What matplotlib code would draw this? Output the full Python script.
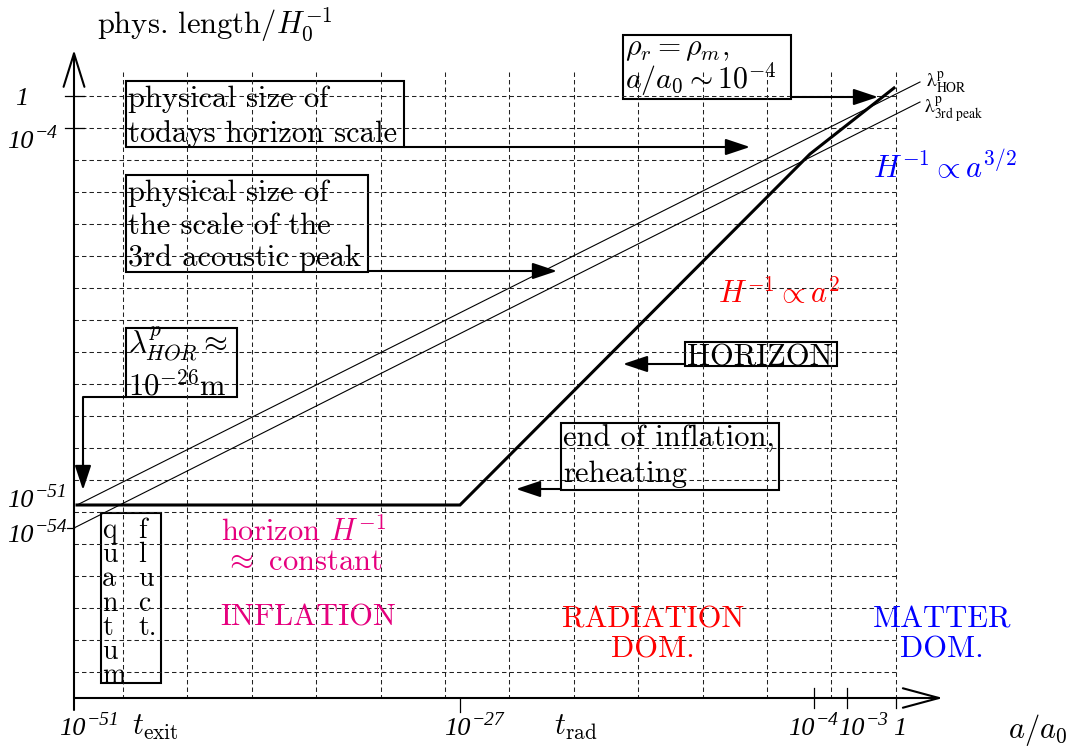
import matplotlib
matplotlib.use('Agg')
import matplotlib.pyplot as plt
from matplotlib.patches import Rectangle
import numpy as np

plt.rcParams['font.family'] = 'cmr10'
plt.rcParams['mathtext.fontset'] = 'cm'
plt.rcParams['axes.unicode_minus'] = False
plt.rcParams['lines.scale_dashes'] = False

PINK = '#e6007e'

# schematic sketch, coordinates in pixels of the drawing (y grows downward)
horizon_x = [77, 460, 810, 894]
horizon_y = [505, 505, 154, 88]
lam_hor_x = [77, 920]
lam_hor_y = [505, 82]
lam_3rd_x = [74, 920]
lam_3rd_y = [528, 102]

grid_x = 123 + 64.4 * np.arange(13)
grid_y = 96 + 32 * np.arange(19)

# tick labels: (base, exponent)
xtick_base = ['10', '10', '10', '10', '1']
xtick_exp = ['\u221251', '\u221227', '\u22124', '\u22123', '']
xtick_pos = [86, 471, 815, 865, 906]
time_labels = [r'$t_{\mathrm{exit}}$', r'$t_{\mathrm{rad}}$']
time_pos = [155, 576]
ytick_base = ['1', '10', '10', '10']
ytick_exp = ['', '\u22124', '\u221251', '\u221254']
ytick_pos = [105, 148, 507, 542]
ytick_anchor = [28, 34, 34, 34]

quantum_letters = list('quantum')
fluct_letters = ['f', 'l', 'u', 'c', 't.']

fig = plt.figure(figsize=(10.72, 7.49), dpi=100)
ax = fig.add_axes([0, 0, 1, 1])
ax.set_xlim(0, 1072)
ax.set_ylim(749, 0)
ax.axis('off')

# dashed grid
for gx in grid_x:
  ax.plot([gx, gx], [72, 698], color='#222222', lw=0.75, dashes=(3.2, 2.2))
for gy in grid_y:
  ax.plot([74, 896], [gy, gy], color='#222222', lw=0.75, dashes=(3.2, 2.2))

# axes with open arrow heads
ax.annotate('', xy=(74, 50), xytext=(74, 710),
            arrowprops=dict(arrowstyle='->,head_length=2.4,head_width=0.75', mutation_scale=10,
                            lw=1.5, color='k', shrinkA=0, shrinkB=0))
ax.annotate('', xy=(943, 698), xytext=(74, 698),
            arrowprops=dict(arrowstyle='->,head_length=2.6,head_width=0.7', mutation_scale=10,
                            lw=1.5, color='k', shrinkA=0, shrinkB=0))

# tick marks
for ty in [96, 128]:
  ax.plot([65, 84], [ty, ty], color='k', lw=0.9)
ax.plot([67, 74], [528, 528], color='k', lw=0.9)
ax.plot([460, 460], [698, 712], color='k', lw=0.9)
for tx in [814, 847]:
  ax.plot([tx, tx], [688, 708], color='k', lw=0.9)
ax.plot([896, 896], [698, 708], color='k', lw=0.9)

# curves
ax.plot(lam_hor_x, lam_hor_y, color='k', lw=0.8)
ax.plot(lam_3rd_x, lam_3rd_y, color='k', lw=0.8)
ax.plot(horizon_x, horizon_y, color='k', lw=2.2, solid_joinstyle='miter')


def itick(x, y, base, exp):
  # italic power of ten: base ends at x, exponent starts at x
  if exp:
    ax.text(x, y, base, ha='right', va='baseline', fontsize=19,
            family='Liberation Serif', style='italic')
    ax.text(x + 1, y - 10, exp, ha='left', va='baseline', fontsize=14,
            family='Liberation Serif', style='italic')
  else:
    ax.text(x, y, base, ha='right', va='baseline', fontsize=19,
            family='Liberation Serif', style='italic')


for b, e, px in zip(xtick_base, xtick_exp, xtick_pos):
  itick(px, 735, b, e)
for lab, px in zip(time_labels, time_pos):
  ax.text(px, 735, lab, ha='center', va='baseline', fontsize=22)
ax.text(1038, 738, r'$a/a_0$', ha='center', va='baseline', fontsize=22)
for b, e, py, px in zip(ytick_base, ytick_exp, ytick_pos, ytick_anchor):
  itick(px, py, b, e)
ax.text(97, 34, r'phys. length$/H_0^{-1}$', ha='left', va='baseline', fontsize=22)

# curve labels
ax.text(926, 83, r'$\mathrm{\lambda}^{\mathrm{p}}_{\mathrm{HOR}}$', ha='left', va='center',
        fontsize=14, math_fontfamily='stix')
ax.text(924, 109, r'$\mathrm{\lambda}^{\mathrm{p}}_{\mathrm{3rd\ peak}}$', ha='left', va='center',
        fontsize=14, math_fontfamily='stix')
ax.text(873, 178, r'$H^{-1}\propto a^{3/2}$', ha='left', va='baseline', fontsize=22, color='blue')
ax.text(718, 303, r'$H^{-1}\propto a^{2}$', ha='left', va='baseline', fontsize=22, color='red')


def box(x0, y0, x1, y1, lines, baselines, size=22):
  ax.add_patch(Rectangle((x0, y0), x1 - x0, y1 - y0, fill=False, ec='k', lw=1.5))
  for ln, b in zip(lines, baselines):
    ax.text(x0 + 2, b, ln, ha='left', va='baseline', fontsize=size)


def arrow(x0, y0, x1, y1):
  ax.annotate('', xy=(x1, y1), xytext=(x0, y0),
              arrowprops=dict(arrowstyle='-|>,head_length=0.75,head_width=0.25', mutation_scale=20,
                              lw=1.5, color='k', shrinkA=0, shrinkB=0))


box(126, 81, 404, 147, ['physical size of', 'todays horizon scale'], [107, 142])
arrow(404, 147, 750, 147)
box(126, 175, 368, 272, ['physical size of', 'the scale of the', '3rd acoustic peak'], [201, 234, 266])
arrow(368, 271, 557, 271)
box(126, 328, 237, 397, [r'$\lambda^p_{HOR} \approx$', r'$10^{-26}$m'], [353, 395])
ax.plot([126, 83, 83], [397, 397, 470], color='k', lw=1.5)
arrow(83, 460, 83, 490)
box(685, 342, 837, 366, ['HORIZON'], [365])
arrow(685, 364, 623, 364)
box(561, 423, 779, 490, ['end of inflation,', 'reheating'], [447, 482])
arrow(561, 489, 516, 489)
box(623, 35, 791, 99, [r'$\rho_r = \rho_m,$', r'$a/a_0 \sim 10^{-4}$'], [55, 89], size=21.5)
arrow(791, 97, 878, 97)

# quantum fluctuation box
ax.add_patch(Rectangle((101, 513), 60, 170, fill=False, ec='k', lw=1.5))
for i, ch in enumerate(quantum_letters):
  ax.text(102, 538 + 24.2 * i, ch, ha='left', va='baseline', fontsize=20)
for i, ch in enumerate(fluct_letters):
  ax.text(138, 538 + 24.2 * i, ch, ha='left', va='baseline', fontsize=20)

# era labels
ax.text(304, 541, r'horizon $H^{-1}$', ha='center', va='baseline', fontsize=22, color=PINK)
ax.text(303, 570, r'$\approx$ constant', ha='center', va='baseline', fontsize=22, color=PINK)
ax.text(308, 625, 'INFLATION', ha='center', va='baseline', fontsize=22, color=PINK)
ax.text(653, 627, 'RADIATION', ha='center', va='baseline', fontsize=22, color='red')
ax.text(653, 657, 'DOM.', ha='center', va='baseline', fontsize=22, color='red')
ax.text(942, 627, 'MATTER', ha='center', va='baseline', fontsize=22, color='blue')
ax.text(942, 657, 'DOM.', ha='center', va='baseline', fontsize=22, color='blue')

fig.savefig('out.png', dpi=100)
